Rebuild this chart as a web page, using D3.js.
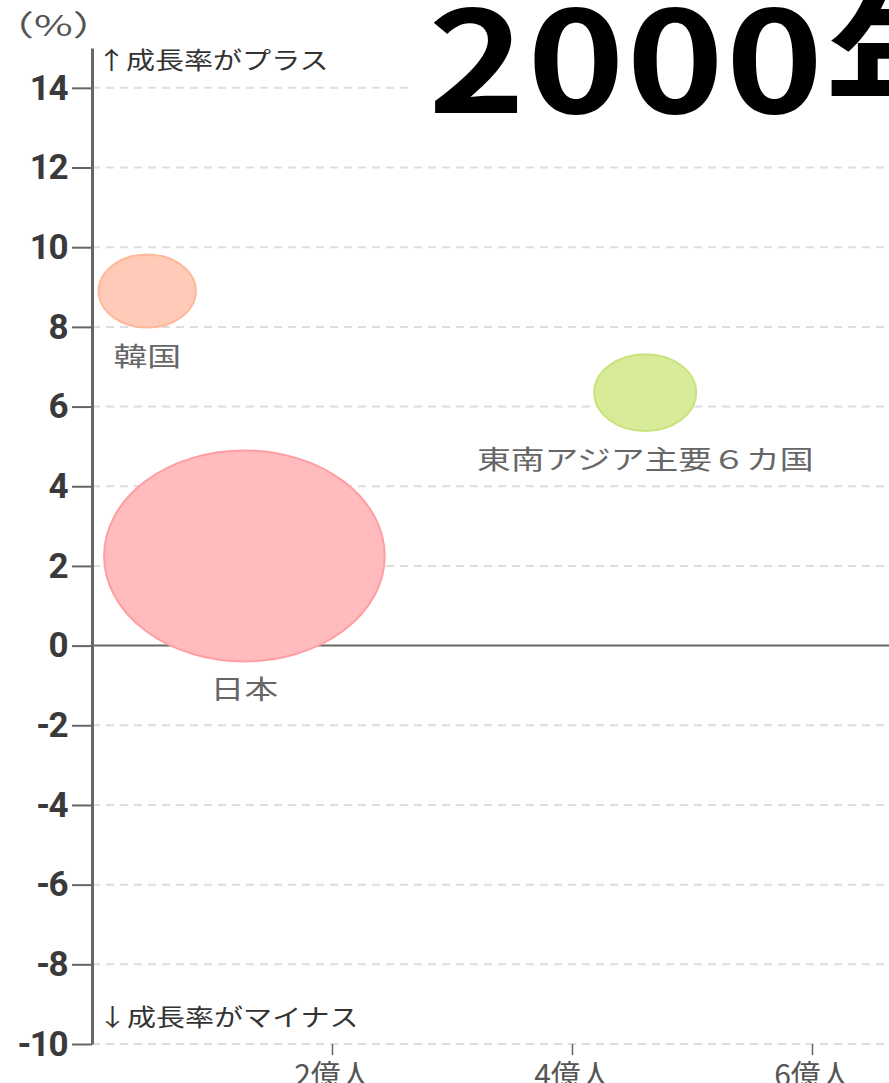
<!DOCTYPE html>
<html>
<head>
<meta charset="utf-8">
<script src="https://d3js.org/d3.v7.min.js"></script>
<style>
  html, body { margin: 0; padding: 0; background: #fff; overflow: hidden; }
</style>
</head>
<body>
<svg></svg>
<script>
    // data (2000年)
    var names = ["韓国", "日本", "東南アジア主要６カ国"];
    var population = [0.46, 1.27, 4.61];   // 億人
    var growth = [8.9, 2.25, 6.35];        // %
    var gdp = [0.6, 5.0, 0.66];            // bubble size
    var fills = ["#ffcbb8", "#ffbbbe", "#d8eb98"];
    var strokes = ["#ffb899", "#ff9ea2", "#c8e37c"];
    var yTicks = [-10, -8, -6, -4, -2, 0, 2, 4, 6, 8, 10, 12, 14];
    var xTicks = [2, 4, 6, 8];
    var xTickLabels = ["2億人", "4億人", "6億人", "8億人"];
    var title = "2000年";

    var width = 889;
    var height = 1083;
    var jp = '"Noto Sans CJK JP", sans-serif';

    var svg = d3.select('svg')
        .attr('width', width)
        .attr('height', height);

    var x = d3.scaleLinear().domain([0, 8]).range([92, 1052]);
    var y = d3.scaleLinear().domain([-10, 15]).range([1044, 48]);
    var r = d3.scaleSqrt().domain([0, 5]).range([0, 105.5]);
    var stretch = 1.33;

    // grid lines
    svg.append('g')
        .selectAll('line')
        .data(yTicks.filter(function (d) { return d !== 0; }))
        .enter().append('line')
        .attr('x1', x(0))
        .attr('x2', width)
        .attr('y1', function (d) { return y(d); })
        .attr('y2', function (d) { return y(d); })
        .style('stroke', '#dedede')
        .style('stroke-width', 2)
        .style('stroke-dasharray', '8,6');

    // title box
    svg.append('rect')
        .attr('x', 408).attr('y', 0)
        .attr('width', width - 408).attr('height', 118)
        .style('fill', '#fff');
    svg.append('text')
        .attr('transform', 'translate(428,113) scale(1.18,1)')
        .style('font-family', jp)
        .style('font-weight', 'bold')
        .style('font-size', '140px')
        .style('letter-spacing', '1.5px')
        .style('fill', '#000')
        .text(title);

    // zero line
    svg.append('line')
        .attr('x1', x(0)).attr('x2', width)
        .attr('y1', y(0)).attr('y2', y(0))
        .style('stroke', '#666')
        .style('stroke-width', 2);

    // y axis
    var yAxis = svg.append('g')
        .attr('transform', 'translate(' + x(0) + ',0)')
        .call(d3.axisLeft(y).tickValues(yTicks).tickSize(20).tickSizeOuter(0).tickPadding(5)
            .tickFormat(function (d) { return String(d); }));
    yAxis.select('.domain').style('stroke', '#666').style('stroke-width', 3);
    yAxis.selectAll('.tick line').style('stroke', '#666').style('stroke-width', 2);
    yAxis.selectAll('.tick text')
        .style('font-family', 'Roboto, sans-serif')
        .style('font-weight', 'bold')
        .style('font-size', '35px')
        .style('letter-spacing', '-1.5px')
        .style('fill', '#3a3a3a');

    // x axis
    var xAxis = svg.append('g')
        .attr('transform', 'translate(0,' + y(-10) + ')')
        .call(d3.axisBottom(x).tickValues(xTicks).tickSize(11).tickPadding(10)
            .tickFormat(function (d, i) { return xTickLabels[i]; }));
    xAxis.select('.domain').remove();
    xAxis.selectAll('.tick line').style('stroke', '#666').style('stroke-width', 1.5);
    xAxis.selectAll('.tick text')
        .style('font-family', jp)
        .style('font-size', '30px')
        .style('fill', '#555');

    // bubbles
    var idx = d3.range(names.length);
    svg.append('g')
        .selectAll('ellipse')
        .data(idx)
        .enter().append('ellipse')
        .attr('cx', function (i) { return x(population[i]); })
        .attr('cy', function (i) { return y(growth[i]); })
        .attr('rx', function (i) { return r(gdp[i]) * stretch; })
        .attr('ry', function (i) { return r(gdp[i]); })
        .style('fill', function (i) { return fills[i]; })
        .style('stroke', function (i) { return strokes[i]; })
        .style('stroke-width', 2);

    svg.append('g')
        .selectAll('text')
        .data(idx)
        .enter().append('text')
        .attr('transform', function (i) {
            return 'translate(' + x(population[i]) + ',' + (y(growth[i]) + r(gdp[i]) + 38) + ') scale(1.3,1)';
        })
        .attr('text-anchor', 'middle')
        .style('font-family', jp)
        .style('font-size', '26px')
        .style('fill', '#666')
        .text(function (i) { return names[i]; });

    // annotations
    svg.append('text')
        .attr('transform', 'translate(-8,36) scale(1.45,1)')
        .style('font-family', jp)
        .style('font-size', '29px')
        .style('fill', '#555')
        .text('（%）');
    svg.append('text')
        .attr('transform', 'translate(97,69) scale(1.21,1)')
        .style('font-family', jp)
        .style('font-size', '24px')
        .style('fill', '#333')
        .text('↑成長率がプラス');
    svg.append('text')
        .attr('transform', 'translate(98,1026) scale(1.21,1)')
        .style('font-family', jp)
        .style('font-size', '24px')
        .style('fill', '#333')
        .text('↓成長率がマイナス');
</script>
</body>
</html>
